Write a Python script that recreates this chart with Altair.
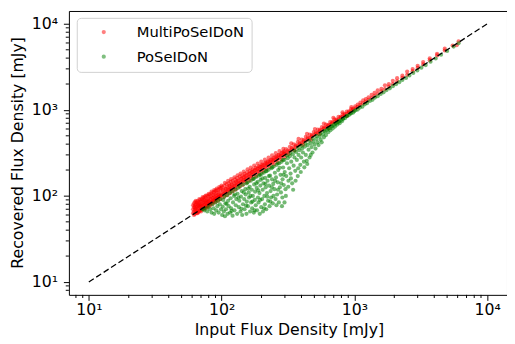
import altair as alt
import pandas as pd

series_names = ["MultiPoSeIDoN", "PoSeIDoN"]
series_colors = ["#ff0000", "#008000"]

# (input flux, recovered flux) in mJy
multi_points = [
    (61, 63), (61, 70), (61, 78), (62, 66), (62, 74), (62, 82), (63, 62), (63, 69), (63, 77), (63, 85),
    (64, 65), (64, 72), (64, 80), (65, 63), (65, 68), (65, 75), (65, 84), (66, 66), (66, 71), (66, 79),
    (66, 87), (67, 65), (67, 73), (67, 82), (68, 67), (68, 76), (68, 85), (69, 68), (69, 74), (69, 80),
    (69, 90), (70, 69), (70, 77), (70, 86), (71, 70), (71, 81), (71, 92), (72, 71), (72, 78), (72, 88),
    (73, 72), (73, 84), (73, 95), (74, 73), (74, 80), (74, 90), (75, 74), (75, 86), (75, 98), (76, 75),
    (76, 83), (76, 94), (77, 77), (77, 89), (78, 76), (78, 85), (78, 101), (79, 80), (79, 92), (80, 79),
    (80, 87), (80, 98), (81, 82), (81, 104), (82, 81), (82, 93), (83, 84), (83, 99), (84, 83), (84, 107),
    (85, 86), (85, 95), (86, 88), (86, 103), (87, 86), (87, 110), (88, 90), (88, 99), (89, 91), (89, 113),
    (90, 89), (90, 104), (91, 93), (91, 116), (92, 94), (92, 108), (93, 95), (94, 97), (94, 118), (95, 96),
    (95, 110), (96, 99), (97, 100), (97, 122), (98, 100), (98, 113), (99, 102), (99, 124),
    (62, 60), (64, 88), (66, 63), (68, 92), (70, 66), (72, 97), (74, 70), (76, 101), (78, 73), (80, 106),
    (82, 77), (84, 112), (86, 81), (88, 117), (90, 85), (92, 122), (94, 88), (96, 127), (98, 92), (100, 132),
    (63, 73), (67, 78), (71, 75), (75, 80), (79, 86), (83, 91), (87, 95), (91, 100), (95, 104),
    (101, 104), (101, 127), (103, 106), (103, 118), (105, 107), (105, 132), (107, 110), (107, 122),
    (109, 112), (109, 137), (111, 113), (111, 126), (113, 117), (113, 140), (115, 118), (115, 131),
    (117, 120), (117, 146), (119, 122), (119, 136), (121, 125), (121, 150), (124, 127), (124, 141),
    (126, 130), (126, 156), (129, 132), (129, 147), (131, 135), (131, 161), (134, 138), (134, 152),
    (137, 140), (137, 168), (140, 144), (140, 159), (143, 147), (143, 174), (146, 150), (146, 165),
    (149, 153), (149, 181), (152, 157), (152, 172), (156, 160), (156, 188), (160, 164), (160, 180),
    (164, 168), (164, 196), (168, 173), (168, 188), (172, 177), (172, 204), (176, 181), (176, 197),
    (181, 186), (181, 213), (186, 191), (186, 206), (191, 196), (191, 222), (196, 201), (196, 216),
    (201, 207), (201, 232), (207, 212), (207, 226), (213, 218), (213, 244), (219, 225), (219, 238),
    (225, 231), (225, 256), (232, 238), (232, 250), (239, 245), (239, 268), (246, 252), (246, 262),
    (254, 260), (254, 284), (262, 268), (262, 279), (270, 276), (270, 300), (279, 286), (279, 295),
    (288, 295), (288, 322), (297, 304), (297, 316),
    (104, 97), (106, 142), (110, 102), (112, 150), (116, 108), (118, 157), (122, 114), (125, 165),
    (128, 119), (132, 174), (136, 127), (139, 182), (144, 134), (147, 192), (153, 143), (157, 204),
    (162, 151), (166, 214), (171, 160), (176, 226), (182, 170), (187, 238), (193, 180), (199, 250),
    (205, 192), (212, 264), (218, 204), (226, 280), (232, 217), (240, 296), (248, 232), (256, 314),
    (264, 247), (273, 333), (282, 264), (292, 352), (300, 283),
    (102, 115), (108, 121), (114, 128), (120, 134), (127, 142), (133, 149), (141, 158), (148, 166),
    (155, 174), (163, 183), (170, 191), (178, 200), (186, 209), (195, 219), (204, 229), (214, 240),
    (224, 251), (235, 263), (246, 275), (258, 288), (270, 301), (283, 315), (296, 329),
    (306, 313), (306, 350), (316, 324), (316, 340), (327, 335), (327, 372), (338, 346), (338, 362),
    (350, 358), (350, 398), (362, 371), (362, 388), (375, 384), (375, 424), (388, 397), (388, 415),
    (402, 412), (402, 452), (416, 426), (416, 445), (431, 441), (431, 485), (446, 457), (446, 478),
    (462, 473), (462, 516), (478, 490), (478, 510), (495, 507), (495, 552), (513, 525), (513, 545),
    (531, 544), (531, 590), (550, 563), (550, 585), (570, 584), (570, 630), (591, 605), (591, 628),
    (612, 627), (612, 676), (635, 650), (635, 672), (658, 674), (658, 722), (682, 698), (682, 720),
    (707, 724), (707, 776), (733, 751), (733, 774), (760, 778), (760, 830), (788, 807), (788, 832),
    (817, 837), (817, 890), (847, 867), (847, 893), (878, 899), (878, 955), (910, 932), (910, 960),
    (944, 967), (944, 1025), (978, 1002), (978, 1030),
    (320, 305), (335, 410), (355, 338), (380, 460), (410, 392), (440, 528), (470, 450), (505, 600),
    (545, 523), (590, 695), (640, 615), (695, 810), (750, 725), (815, 940), (880, 852), (950, 1080),
    (1015, 1040), (1015, 1100), (1060, 1088), (1060, 1150), (1110, 1140), (1110, 1215), (1165, 1195),
    (1165, 1290), (1220, 1250), (1220, 1340), (1280, 1312), (1280, 1400), (1350, 1385), (1350, 1500),
    (1420, 1455), (1420, 1580), (1500, 1540), (1500, 1690), (1600, 1640), (1600, 1760), (1700, 1745),
    (1700, 1930), (1820, 1865), (1820, 1990), (1950, 2000), (1950, 2180), (2100, 2150), (2100, 2340),
    (2300, 2360), (2300, 2500), (2500, 2560), (2500, 2790), (2750, 2820), (2750, 2980), (3000, 3080),
    (3000, 3260), (3300, 3380), (3300, 3600), (3700, 3790), (3700, 3980), (4200, 4300), (4200, 4500),
    (4800, 4900), (4800, 5150), (5500, 5600), (5900, 5650), (6100, 6250),
]

poseidon_points = [
    (72, 70), (74, 68), (76, 72), (78, 66), (80, 75), (82, 70), (84, 64), (85, 80), (87, 72), (88, 62),
    (90, 84), (91, 68), (93, 76), (94, 88), (95, 64), (97, 80), (98, 92), (99, 70),
    (101, 60), (102, 75), (103, 90), (104, 66), (105, 98), (106, 58), (107, 82), (108, 70), (110, 102),
    (111, 62), (112, 88), (113, 76), (115, 108), (116, 64), (117, 94), (118, 72), (120, 112), (121, 59),
    (122, 84), (124, 100), (125, 68), (127, 118), (128, 78), (129, 92),
    (131, 62), (132, 106), (133, 124), (135, 74), (136, 88), (138, 130), (139, 66), (140, 98), (142, 114),
    (143, 60), (145, 80), (146, 136), (148, 92), (149, 70), (151, 120), (152, 104), (154, 62), (155, 86),
    (157, 144), (158, 76), (160, 110), (161, 96), (163, 128), (164, 66), (166, 150), (167, 84), (169, 118),
    (170, 72), (172, 100), (173, 158), (175, 64), (176, 136), (178, 90), (179, 112), (181, 78), (182, 166),
    (184, 124), (185, 68), (187, 146), (188, 96), (190, 84), (191, 172), (193, 108), (194, 62), (196, 132),
    (197, 154), (199, 74), (200, 180), (202, 92), (204, 118), (205, 66), (207, 140), (208, 186), (210, 100),
    (212, 80), (213, 162), (215, 126), (217, 70), (218, 194), (220, 108),
    (222, 150), (224, 88), (226, 202), (228, 132), (230, 76), (232, 172), (234, 114), (236, 96), (238, 210),
    (240, 156), (243, 82), (245, 138), (247, 220), (250, 120), (252, 186), (255, 92), (257, 164), (260, 230),
    (262, 104), (265, 144), (267, 200), (270, 84), (272, 240), (275, 126), (278, 176), (280, 110), (283, 250),
    (285, 76), (288, 156), (291, 214), (294, 134), (297, 262), (299, 190),
    (109, 81), (119, 67), (126, 104), (134, 96), (141, 71), (147, 110), (153, 77), (159, 122), (165, 100),
    (171, 86), (177, 68), (183, 140), (189, 116), (195, 90), (203, 160), (209, 72), (214, 138), (221, 98),
    (227, 170), (233, 86), (239, 126), (246, 100), (253, 150), (259, 78), (266, 118), (274, 212),
    (281, 140), (287, 96), (293, 176), (298, 84),
    (155, 140), (175, 158), (195, 176), (215, 194), (240, 216), (265, 240), (290, 262),
    (303, 120), (307, 170), (311, 240), (315, 275), (319, 150), (323, 210), (327, 290), (331, 182),
    (335, 250), (340, 140), (344, 305), (349, 225), (354, 280), (359, 196), (364, 325), (369, 262),
    (375, 170), (380, 300), (386, 340), (392, 230), (398, 280), (404, 355), (410, 320), (417, 250),
    (424, 375), (431, 300), (438, 256), (445, 390), (452, 345), (460, 280), (468, 410), (476, 370),
    (484, 320), (492, 430), (501, 395), (510, 355), (519, 460), (528, 420), (538, 390), (548, 490),
    (558, 450), (568, 420), (579, 520), (590, 480), (601, 560), (612, 510), (624, 590), (636, 550),
    (648, 610), (661, 580), (674, 640), (687, 610), (701, 670), (715, 640), (729, 700), (744, 675),
    (760, 730), (775, 700), (791, 760), (807, 740), (824, 790),
    (305, 100), (318, 128), (333, 160), (346, 118), (361, 150), (378, 210), (395, 190), (420, 215),
    (442, 235), (470, 300),
    (310, 295), (330, 318), (352, 336), (376, 360), (400, 382), (428, 410), (456, 438), (487, 466),
    (520, 500), (555, 532), (592, 570), (632, 607), (675, 650), (720, 694), (768, 740), (820, 792),
    (875, 848), (934, 905), (997, 968),
    (850, 800), (880, 850), (910, 870), (945, 915), (980, 930), (1020, 990), (1060, 1010), (1100, 1065),
    (1150, 1090), (1200, 1160), (1250, 1200), (1310, 1270), (1370, 1310), (1430, 1390), (1500, 1440),
    (1580, 1530), (1660, 1600), (1750, 1700), (1850, 1780), (1950, 1890), (2060, 1990), (2180, 2100),
    (2300, 2230), (2450, 2350), (2600, 2520), (2780, 2690), (2980, 2870), (3200, 3100), (3450, 3320),
    (3750, 3640), (4100, 3960), (4500, 4380), (5000, 4850), (5600, 5450), (6100, 5950),
]

identity_line = [10, 10000]
major_ticks = [10, 100, 1000, 10000]
minor_ticks = [8, 9, 20, 30, 40, 50, 60, 70, 80, 90, 200, 300, 400, 500, 600, 700, 800, 900,
               2000, 3000, 4000, 5000, 6000, 7000, 8000, 9000]
axis_domain = [7.08, 14125]

FONT = "DejaVu Sans"

rows = [{"input": x, "recovered": y, "catalogue": series_names[0]} for x, y in multi_points]
rows += [{"input": x, "recovered": y, "catalogue": series_names[1]} for x, y in poseidon_points]
points_df = pd.DataFrame(rows)
line_df = pd.DataFrame({"input": identity_line, "recovered": identity_line})
minor_df = pd.DataFrame({"tick": minor_ticks})

label_expr = ("datum.value == 10 ? '10\u00b9' : datum.value == 100 ? '10\u00b2' : "
              "datum.value == 1000 ? '10\u00b3' : '10\u2074'")

xscale = alt.Scale(type="log", domain=axis_domain, nice=False)
yscale = alt.Scale(type="log", domain=axis_domain, nice=False)

xaxis = alt.Axis(
    title="Input Flux Density [mJy]", values=major_ticks, labelExpr=label_expr,
    grid=False, domain=False, tickSize=5.6, tickColor="black", tickWidth=1,
    labelPadding=1, labelFont=FONT, labelFontSize=16, labelColor="black",
    labelFlush=False, labelOverlap=False,
    titleFont=FONT, titleFontSize=16, titleFontWeight="normal", titleColor="black",
    titleX=224, titleY=40, titleBaseline="alphabetic", titleAlign="center",
)
yaxis = alt.Axis(
    title="Recovered Flux Density [mJy]", values=major_ticks, labelExpr=label_expr,
    grid=False, domain=False, tickSize=5.6, tickColor="black", tickWidth=1,
    labelPadding=6, labelFont=FONT, labelFontSize=16, labelColor="black",
    labelFlush=False, labelOverlap=False,
    titleFont=FONT, titleFontSize=16, titleFontWeight="normal", titleColor="black",
    titleX=-47, titleY=144, titleAngle=270, titleBaseline="alphabetic", titleAlign="center",
)

legend = alt.Legend(
    title=None, orient="none", legendX=8, legendY=7, direction="vertical",
    labelFont=FONT, labelFontSize=15, labelColor="black",
    symbolType="circle", symbolSize=18, symbolOpacity=0.5, symbolStrokeWidth=0,
    padding=7, fillColor="white", strokeColor="#d0d0d0", cornerRadius=4,
    rowPadding=9, symbolOffset=13, labelOffset=26,
)

scatter = alt.Chart(points_df).mark_circle(size=18, opacity=0.55).encode(
    x=alt.X("input:Q", scale=xscale, axis=xaxis),
    y=alt.Y("recovered:Q", scale=yscale, axis=yaxis),
    color=alt.Color("catalogue:N",
                    scale=alt.Scale(domain=series_names, range=series_colors),
                    legend=legend),
)

diag = alt.Chart(line_df).mark_line(color="black", strokeDash=[6, 3], strokeWidth=1.3).encode(
    x=alt.X("input:Q", scale=xscale, axis=xaxis),
    y=alt.Y("recovered:Q", scale=yscale, axis=yaxis),
)

x_minor = alt.Chart(minor_df).mark_rule(color="black", strokeWidth=1).encode(
    x=alt.X("tick:Q", scale=xscale, axis=xaxis),
    y=alt.value(289),
    y2=alt.value(292.2),
)
y_minor = alt.Chart(minor_df).mark_rule(color="black", strokeWidth=1).encode(
    y=alt.Y("tick:Q", scale=yscale, axis=yaxis),
    x=alt.value(0),
    x2=alt.value(-3.2),
)

chart = alt.layer(scatter, diag, x_minor, y_minor).properties(
    width=446, height=289,
    autosize=alt.AutoSizeParams(type="none"),
    padding={"left": 62, "top": 0, "right": 0, "bottom": 48},
).configure(font=FONT).configure_view(stroke="black", strokeWidth=1)

chart.save("out.html", embed_options={"renderer": "svg", "actions": False})
